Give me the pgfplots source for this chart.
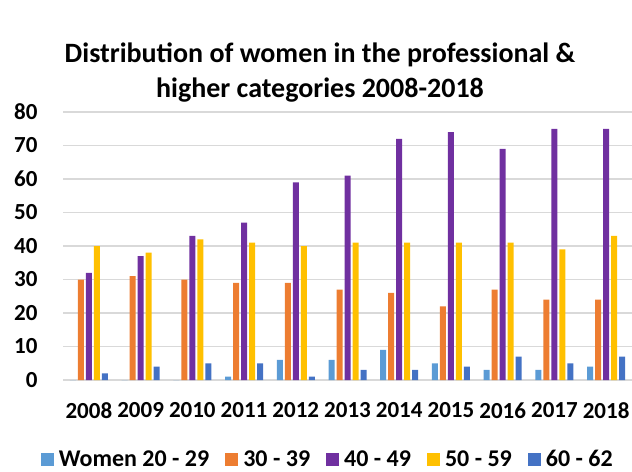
\documentclass[border=0pt]{standalone}
\usepackage{fontspec}
\setmainfont{Carlito}
\usepackage{pgfplots}
\pgfplotsset{compat=1.18}
\definecolor{cA}{HTML}{5B9BD5}
\definecolor{cB}{HTML}{ED7D31}
\definecolor{cC}{HTML}{7030A0}
\definecolor{cD}{HTML}{FFC000}
\definecolor{cE}{HTML}{4472C4}
\begin{document}
\begin{tikzpicture}
\path[use as bounding box] (-63bp,-92bp) rectangle (569bp,380bp);
\begin{axis}[
  at={(0,0)}, anchor=south west,
  scale only axis, width=569bp, height=268bp,
  ybar=2bp, bar width=6bp,
  xmin=-0.5, xmax=10.5, ymin=0, ymax=80,
  ytick={0,10,...,80},
  xtick={0,...,10},
  xticklabels={2008,2009,2010,2011,2012,2013,2014,2015,2016,2017,2018},
  axis line style={draw=none},
  major tick style={draw=none},
  ymajorgrids,
  grid style={draw=black!15, line width=1.2bp},
  /pgf/number format/assume math mode=true,
  tick label style={font=\fontsize{23bp}{27bp}\selectfont\bfseries},
  xticklabel style={yshift=-15bp},
  yticklabel style={xshift=-22bp},
  legend style={at={(0.468,-0.295)}, anchor=center, draw=none, fill=none,
    legend columns=5, font=\fontsize{24bp}{28bp}\selectfont\bfseries,
    /tikz/every even column/.append style={column sep=11bp},
    nodes={inner xsep=5bp, inner ysep=0pt}},
  legend image code/.code={\fill[#1] (0bp,-6.5bp) rectangle (13bp,6.5bp);},
]
\addplot[fill=cA, draw=none] coordinates {(0,0) (1,0) (2,0) (3,1) (4,6) (5,6) (6,9) (7,5) (8,3) (9,3) (10,4)};
\addplot[fill=cB, draw=none] coordinates {(0,30) (1,31) (2,30) (3,29) (4,29) (5,27) (6,26) (7,22) (8,27) (9,24) (10,24)};
\addplot[fill=cC, draw=none] coordinates {(0,32) (1,37) (2,43) (3,47) (4,59) (5,61) (6,72) (7,74) (8,69) (9,75) (10,75)};
\addplot[fill=cD, draw=none] coordinates {(0,40) (1,38) (2,42) (3,41) (4,40) (5,41) (6,41) (7,41) (8,41) (9,39) (10,43)};
\addplot[fill=cE, draw=none] coordinates {(0,2) (1,4) (2,5) (3,5) (4,1) (5,3) (6,3) (7,4) (8,7) (9,5) (10,7)};
\legend{Women 20 - 29, 30 - 39, 40 - 49, 50 - 59, 60 - 62}
\end{axis}
\node[align=center, font=\fontsize{28bp}{35bp}\selectfont\bfseries] at (257bp,307bp)
  {Distribution of women in the professional \&\\higher categories 2008-2018};
\end{tikzpicture}
\end{document}
